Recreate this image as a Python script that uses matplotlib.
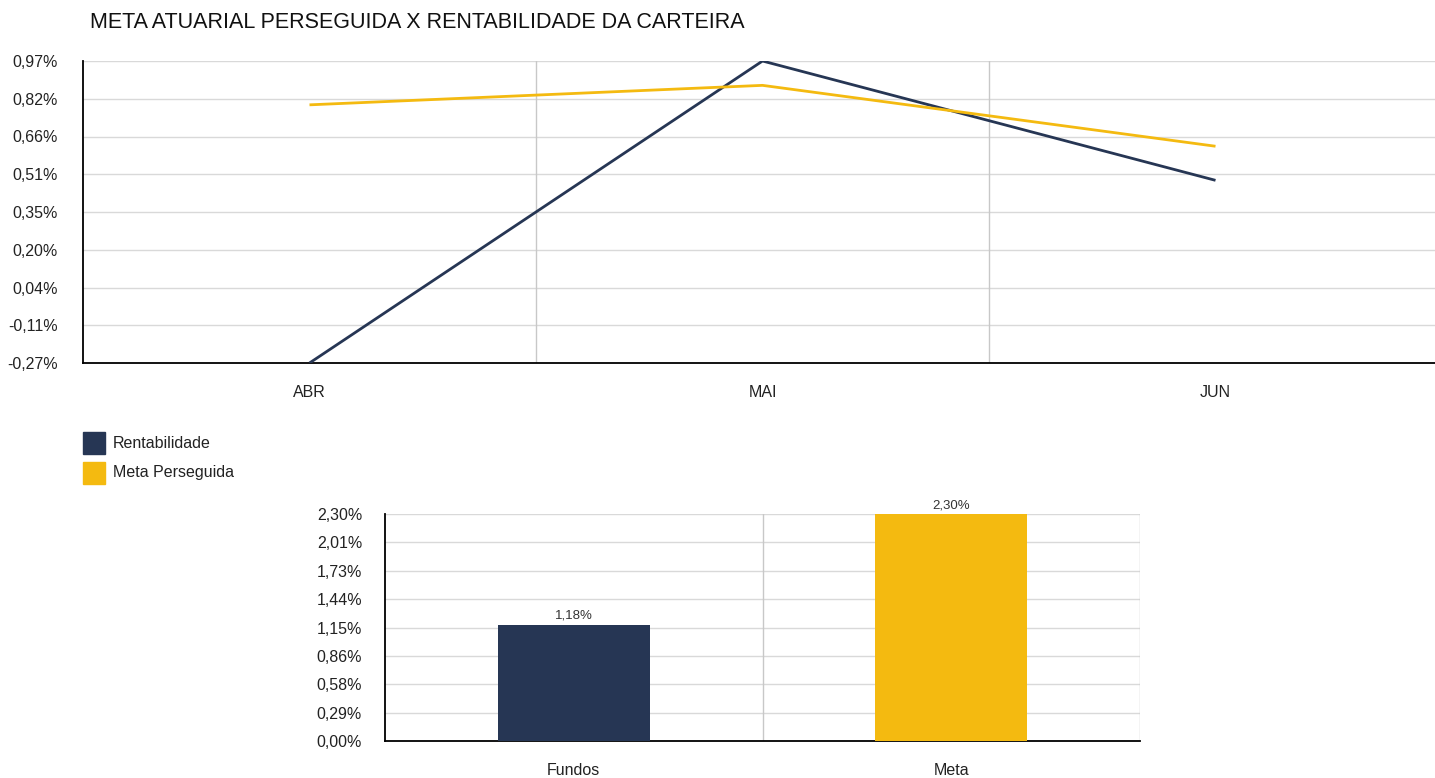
import matplotlib
matplotlib.use("Agg")
import matplotlib.pyplot as plt
from matplotlib.patches import Rectangle

plt.rcParams["font.family"] = ["Liberation Sans", "DejaVu Sans"]

meses = ["ABR", "MAI", "JUN"]
rentabilidade = [-0.27, 0.97, 0.48]
meta_perseguida = [0.79, 0.87, 0.62]
top_ticks = [-0.27, -0.115, 0.04, 0.195, 0.35, 0.505, 0.66, 0.815, 0.97]
top_labels = ["-0,27%", "-0,11%", "0,04%", "0,20%", "0,35%", "0,51%", "0,66%", "0,82%", "0,97%"]

bar_cats = ["Fundos", "Meta"]
bar_vals = [1.18, 2.30]
bar_ticks = [0, 0.2875, 0.575, 0.8625, 1.15, 1.4375, 1.725, 2.0125, 2.30]
bar_labels = ["0,00%", "0,29%", "0,58%", "0,86%", "1,15%", "1,44%", "1,73%", "2,01%", "2,30%"]

legend_names = ["Rentabilidade", "Meta Perseguida"]

NAVY = "#263654"
GOLD = "#F4BA10"
GRID = "#d9d9d9"

W, H = 1435, 778
fig = plt.figure(figsize=(W / 100, H / 100), dpi=100)

def frac(x0, y0, x1, y1):
    return [x0 / W, 1 - y1 / H, (x1 - x0) / W, (y1 - y0) / H]

# line chart (plot area runs a little past the right edge, as in the source)
ax = fig.add_axes(frac(83, 61, 1442, 363))
xs = range(len(meses))
ax.plot(xs, rentabilidade, color=NAVY, lw=2.0, solid_capstyle="butt", zorder=3)
ax.plot(xs, meta_perseguida, color=GOLD, lw=2.0, solid_capstyle="butt", zorder=3)
ax.set_xlim(-0.5, 2.5)
ax.set_ylim(top_ticks[0], top_ticks[-1])
ax.set_yticks(top_ticks)
ax.set_yticklabels(top_labels)
ax.set_xticks(list(xs))
ax.set_xticklabels(meses)
for y in top_ticks[1:]:
    ax.axhline(y, color=GRID, lw=1, zorder=1)
for x in [0.5, 1.5]:
    ax.axvline(x, color="#c8c8c8", lw=1, zorder=1)
ax.tick_params(axis="both", length=0, labelsize=11.5, colors="#222222")
ax.tick_params(axis="y", pad=18)
ax.tick_params(axis="x", pad=16)
for s in ["top", "right"]:
    ax.spines[s].set_visible(False)
for s in ["left", "bottom"]:
    ax.spines[s].set_color("black")
    ax.spines[s].set_linewidth(1.3)

fig.text(90 / W, 1 - 23 / H, "META ATUARIAL PERSEGUIDA X RENTABILIDADE DA CARTEIRA",
         fontsize=15.5, va="center", ha="left", color="#111111")

# legend
for i, (name, col) in enumerate(zip(legend_names, [NAVY, GOLD])):
    y0 = 432 + i * 30
    fig.patches.append(Rectangle((83 / W, 1 - (y0 + 22) / H), 22 / W, 22 / H,
                                 transform=fig.transFigure, color=col))
    fig.text(113 / W, 1 - (y0 + 11) / H, name, fontsize=11.5, va="center", ha="left",
             color="#222222")

# bar chart
bx = fig.add_axes(frac(385, 514, 1140, 741))
bxs = range(len(bar_cats))
bars = bx.bar(bxs, bar_vals, width=0.403, color=[NAVY, GOLD], zorder=3)
for b, v in zip(bars, bar_vals):
    bx.text(b.get_x() + b.get_width() / 2, v + 0.03, f"{v:.2f}%".replace(".", ","),
            ha="center", va="bottom", fontsize=9.5, color="#333333")
bx.set_xlim(-0.5, 1.5)
bx.set_ylim(0, bar_ticks[-1])
bx.set_yticks(bar_ticks)
bx.set_yticklabels(bar_labels)
bx.set_xticks(list(bxs))
bx.set_xticklabels(bar_cats)
for y in bar_ticks[1:]:
    bx.axhline(y, color=GRID, lw=1, zorder=1)
for x in [0.5, 1.5]:
    bx.axvline(x, color="#c8c8c8", lw=1, zorder=1)
bx.tick_params(axis="both", length=0, labelsize=11.5, colors="#222222")
bx.tick_params(axis="y", pad=16.5)
bx.tick_params(axis="x", pad=16)
for s in ["top", "right"]:
    bx.spines[s].set_visible(False)
for s in ["left", "bottom"]:
    bx.spines[s].set_linewidth(1.3)

fig.savefig("out.png", dpi=100)
